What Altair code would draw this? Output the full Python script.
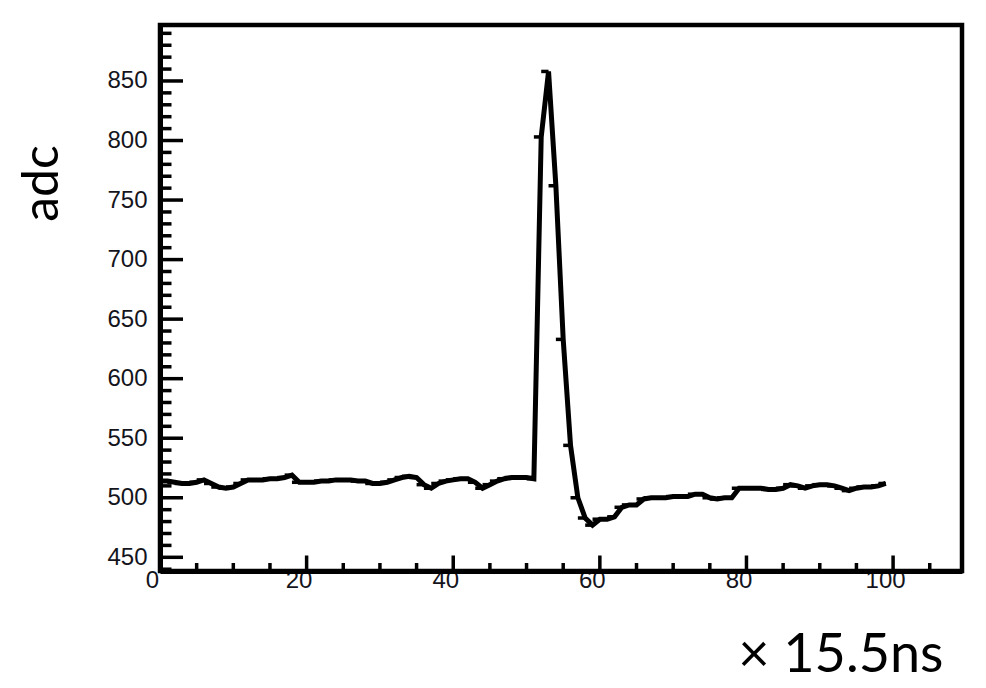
import altair as alt
import pandas as pd

# sample index (x 15.5 ns)
sample = list(range(100))
# adc values
adc = [514, 514, 513, 512, 512, 513, 515, 512, 509, 508,
       509, 512, 515, 515, 515, 516, 516, 517, 519, 513,
       513, 513, 514, 514, 515, 515, 515, 514, 514, 512,
       512, 513, 515, 517, 518, 517, 511, 508, 512, 514,
       515, 516, 516, 513, 508, 511, 514, 516, 517, 517,
       517, 516, 803, 858, 762, 633, 544, 500, 483, 477,
       482, 482, 484, 492, 494, 494, 499, 500, 500, 500,
       501, 501, 501, 503, 503, 500, 499, 500, 500, 508,
       508, 508, 508, 507, 507, 508, 511, 510, 508, 510,
       511, 511, 510, 508, 506, 508, 509, 509, 510, 512]

x_major = [0, 20, 40, 60, 80, 100]
x_minor = [5, 10, 15, 25, 30, 35, 45, 50, 55, 65, 70, 75, 85, 90, 95, 105]
y_major = [450, 500, 550, 600, 650, 700, 750, 800, 850]
y_minor = [440, 460, 470, 480, 490, 510, 520, 530, 540, 560, 570, 580, 590,
           610, 620, 630, 640, 660, 670, 680, 690, 710, 720, 730, 740,
           760, 770, 780, 790, 810, 820, 830, 840, 860, 870, 880, 890]

X_DOMAIN = [0, 109.4]
Y_DOMAIN = [438.5, 897]
W, H = 802, 546

df = pd.DataFrame({"t": sample, "v": adc})
df["t0"] = df["t"].apply(lambda a: max(a - 1, 0))

xs = alt.Scale(domain=X_DOMAIN, nice=False, zero=False)
ys = alt.Scale(domain=Y_DOMAIN, nice=False, zero=False)

LABEL_FONT = "Liberation Sans"
LABEL_COLOR = "#14141c"

x_axis = alt.Axis(
    values=x_major, format="d", ticks=False, tickSize=0, grid=False,
    domainColor="black", domainWidth=5,
    labelFont=LABEL_FONT, labelFontSize=24, labelColor=LABEL_COLOR,
    labelPadding=-3, labelOffset=-8, labelFlush=False, labelBaseline="top",
    title="× 15.5ns", titleFont="Lato", titleFontSize=54, titleFontWeight="normal",
    titleColor="black", titleX=783, titleY=100, titleAlign="right",
    titleBaseline="alphabetic",
)
y_axis = alt.Axis(
    values=y_major, format="d", ticks=False, tickSize=0, grid=False,
    domainColor="black", domainWidth=5,
    labelFont=LABEL_FONT, labelFontSize=24, labelColor=LABEL_COLOR,
    labelPadding=13, labelFlush=False, labelBaseline="middle",
    title="adc", titleFont="Lato", titleFontSize=50, titleFontWeight="normal",
    titleColor="black", titleAngle=270, titleX=-103, titleY=158,
    titleAlign="center", titleBaseline="alphabetic",
)

line = alt.Chart(df).mark_line(color="black", strokeWidth=5, clip=True).encode(
    x=alt.X("t:Q", scale=xs, axis=x_axis),
    y=alt.Y("v:Q", scale=ys, axis=y_axis),
)

dashes = alt.Chart(df).mark_rule(color="black", strokeWidth=3.5).encode(
    x=alt.X("t0:Q", scale=xs, axis=x_axis),
    x2="t:Q",
    y=alt.Y("v:Q", scale=ys, axis=y_axis),
)

ymaj = alt.Chart(pd.DataFrame({"y": y_major})).mark_rule(color="black", strokeWidth=3.5).encode(
    y=alt.Y("y:Q", scale=ys, axis=y_axis), x=alt.value(0), x2=alt.value(23))
ymin = alt.Chart(pd.DataFrame({"y": y_minor})).mark_rule(color="black", strokeWidth=3.5).encode(
    y=alt.Y("y:Q", scale=ys, axis=y_axis), x=alt.value(0), x2=alt.value(11.5))
xmaj = alt.Chart(pd.DataFrame({"x": x_major})).mark_rule(color="black", strokeWidth=3.5).encode(
    x=alt.X("x:Q", scale=xs, axis=x_axis), y=alt.value(H), y2=alt.value(H - 15.5))
xmin = alt.Chart(pd.DataFrame({"x": x_minor})).mark_rule(color="black", strokeWidth=3.5).encode(
    x=alt.X("x:Q", scale=xs, axis=x_axis), y=alt.value(H), y2=alt.value(H - 8))

chart = alt.layer(line, dashes, ymaj, ymin, xmaj, xmin).properties(
    width=W, height=H,
    padding={"left": 152, "top": 17, "right": 10, "bottom": 104},
    autosize=alt.AutoSizeParams(type="none"),
    background="white",
).configure_view(stroke="black", strokeWidth=4.5)

chart.save("out.html", embed_options={"renderer": "svg", "actions": False})
